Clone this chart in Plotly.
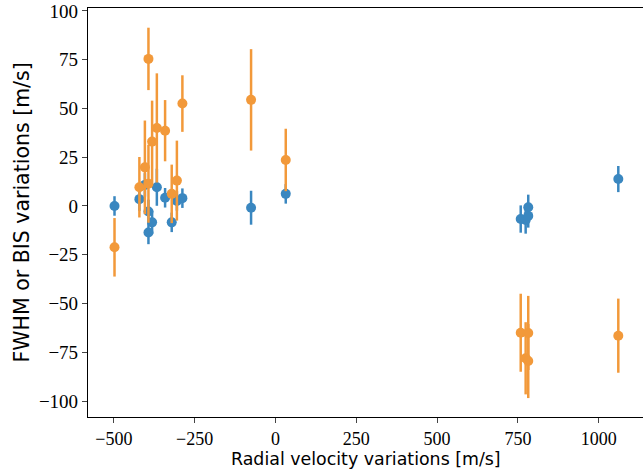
import plotly.graph_objects as go

# Radial velocity variations [m/s]
rv = [-498, -421, -404, -393, -393, -381.7, -367, -341.5, -321, -305, -288,
      -75.5, 31.8, 758.7, 774, 782, 782, 1060.6]

# FWHM variations (blue) and errors
fwhm = [0.0, 3.5, 10.8, -2.8, -13.6, -8.4, 9.6, 4.2, -8.4, 2.6, 4.0,
        -0.9, 6.2, -6.7, -7.2, -0.7, -5.1, 13.8]
fwhm_err = [5, 6, 6, 6, 6, 6, 9.5, 5, 5, 5, 5, 8.7, 5, 7, 7, 6.5, 6, 6.7]

# BIS variations (orange) and errors
bis = [-21.2, 9.6, 19.8, 75.4, 11.4, 33.0, 40.0, 38.6, 6.2, 13.0, 52.5,
       54.4, 23.6, -65.0, -78.1, -65.1, -79.5, -66.5]
bis_err = [15, 15.5, 24, 16, 20, 21, 28, 15.7, 15, 20.5, 14.5,
           26, 16, 20, 18.5, 19, 19, 19]

xticks = [-500, -250, 0, 250, 500, 750, 1000]
yticks = [-100, -75, -50, -25, 0, 25, 50, 75, 100]

x_title = "Radial velocity variations [m/s]"
y_title = "FWHM or BIS variations [m/s]"

blue = "#3a87c0"
orange = "#f2993a"
serif = "Liberation Serif, serif"


def lab(v):
    return ("−" + str(-v)) if v < 0 else str(v)


fig = go.Figure()
fig.add_trace(go.Scatter(
    x=rv, y=fwhm, mode="markers",
    marker=dict(color=blue, size=10, line=dict(width=0)),
    error_y=dict(type="data", array=fwhm_err, visible=True,
                 color=blue, thickness=2.5, width=0),
    showlegend=False))
fig.add_trace(go.Scatter(
    x=rv, y=bis, mode="markers",
    marker=dict(color=orange, size=10, line=dict(width=0)),
    error_y=dict(type="data", array=bis_err, visible=True,
                 color=orange, thickness=2.5, width=0),
    showlegend=False))

fig.update_layout(
    width=643, height=474,
    margin=dict(l=88, r=0, t=8, b=57),
    paper_bgcolor="white", plot_bgcolor="white",
    xaxis=dict(
        range=[-580, 1137], tickvals=xticks, ticktext=[lab(v) for v in xticks],
        showgrid=False, zeroline=False, showline=True, linecolor="black", linewidth=1.2,
        mirror=True, ticks="outside", ticklen=5, tickcolor="#444", tickwidth=1,
        tickfont=dict(family=serif, size=18, color="black"),
        automargin=False,
    ),
    yaxis=dict(
        range=[-108.2, 101.5], tickvals=yticks, ticktext=[lab(v) for v in yticks],
        showgrid=False, zeroline=False, showline=True, linecolor="black", linewidth=1.2,
        ticks="outside", ticklen=5, tickcolor="#444", tickwidth=1,
        tickfont=dict(family=serif, size=19, color="black"),
        automargin=False,
    ),
    annotations=[
        dict(text=x_title, xref="paper", yref="paper", x=0.5, y=0, yshift=-42,
             xanchor="center", yanchor="middle", showarrow=False,
             font=dict(family="DejaVu Sans", size=17.4, color="black")),
        dict(text=y_title, xref="paper", yref="paper", x=0, y=0.5, xshift=-67,
             xanchor="center", yanchor="middle", textangle=-90, showarrow=False,
             font=dict(family="DejaVu Sans", size=20.5, color="black")),
    ],
)

fig.write_html("out.html", config={"displayModeBar": False},
               post_script="document.body.style.margin='0';")
